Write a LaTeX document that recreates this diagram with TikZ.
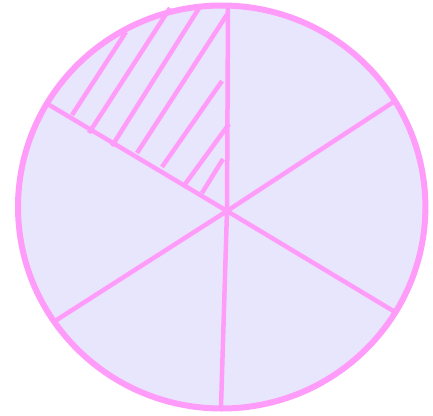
\documentclass[tikz,border=0pt]{standalone}
\definecolor{piefill}{HTML}{E8E6FC}
\definecolor{pieline}{HTML}{FF9CFA}
\begin{document}
\begin{tikzpicture}[x=1pt,y=-1pt,
  spoke/.style={draw=pieline,line width=4.5pt},
  hatch/.style={draw=pieline,line width=4.5pt},
  rim/.style={draw=pieline,line width=6pt,fill=piefill}]
\useasboundingbox (0,0) rectangle (433,415);
\draw[rim] (221.7,207) ellipse [x radius=203.7, y radius=201.5];
\coordinate (c) at (227,211);
\coordinate (top) at (228,6);
\coordinate (ur) at (395,101);
\coordinate (lr) at (395,312);
\coordinate (bot) at (221,407);
\coordinate (ll) at (55,321);
\coordinate (ul) at (46,103);
\foreach \p in {top,ur,lr,bot,ll,ul} \draw[spoke] (c) -- (\p);
\draw[hatch] (72,115) -- (126,32);
\draw[hatch] (89,133) -- (170,8);
\draw[hatch] (112,146) -- (201,5);
\draw[hatch] (137,153) -- (228,13);
\draw[hatch] (162,167) -- (222,81);
\draw[hatch] (183,187) -- (229,124);
\draw[hatch] (202,193) -- (223,159);
\end{tikzpicture}
\end{document}
